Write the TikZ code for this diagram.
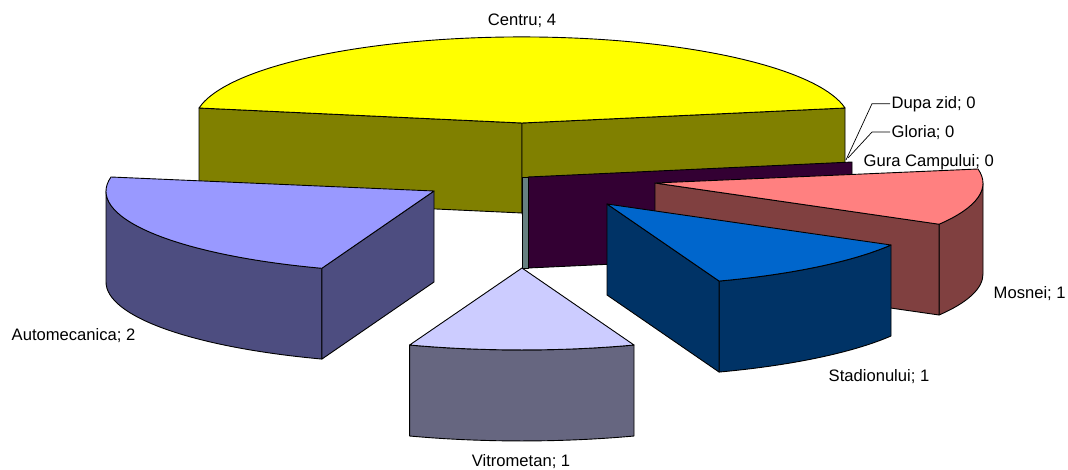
\documentclass[tikz,border=0pt]{standalone}
\usepackage{fontspec}
\setmainfont{Liberation Sans}
\usepackage{tikz}
\usetikzlibrary{positioning}

\definecolor{centrutop}{HTML}{FFFF00}
\definecolor{centruside}{HTML}{808000}
\definecolor{zerowall}{HTML}{330033}
\definecolor{zerostrip}{HTML}{668080}
\definecolor{mosneitop}{HTML}{FF8080}
\definecolor{mosneiside}{HTML}{804040}
\definecolor{stadiontop}{HTML}{0066CC}
\definecolor{stadionside}{HTML}{003366}
\definecolor{autotop}{HTML}{9999FF}
\definecolor{autoside}{HTML}{4D4D80}
\definecolor{vitrotop}{HTML}{CCCCFF}
\definecolor{vitroside}{HTML}{666680}

\begin{document}
\begin{tikzpicture}[x=1pt, y=-1pt,
    face/.style={draw=black, line width=0.9pt, line join=round},
    lbl/.style={font=\fontsize{16.6}{19}\selectfont, inner sep=1.5pt},
    leader/.style={draw=black, line width=0.7pt}]
    \useasboundingbox (0,0) rectangle (1068,469);

    % Centru, at the back
    \filldraw[face, fill=centruside] (199,108) -- (522,123) -- (522,213) -- (199,198) -- cycle;
    \filldraw[face, fill=centruside] (522,123) -- (845,108) -- (845,199) -- (522,214) -- cycle;
    \filldraw[face, fill=centrutop] (522,123) -- (199,108) arc[start angle=190, end angle=350, x radius=328, y radius=86] -- cycle;

    % walls of the empty slices
    \filldraw[face, fill=zerowall] (528,177) -- (852,162) -- (852,253) -- (528,268) -- cycle;
    \filldraw[face, fill=zerostrip] (522,177) -- (528,177) -- (528,268) -- (522,268) -- cycle;

    % Mosnei
    \filldraw[face, fill=mosneiside] (983,183) arc[start angle=0, end angle=30, x radius=328, y radius=82] -- ++(0,91) arc[start angle=30, end angle=0, x radius=328, y radius=82] -- cycle;
    \filldraw[face, fill=mosneiside] (655,183) -- (939,224) -- (939,315) -- (655,274) -- cycle;
    \filldraw[face, fill=mosneitop] (655,183) -- (978,169) arc[start angle=350, end angle=390, x radius=328, y radius=82] -- cycle;

    % Stadionului
    \filldraw[face, fill=stadionside] (891,245) arc[start angle=30, end angle=70, x radius=328, y radius=82] -- ++(0,91) arc[start angle=70, end angle=30, x radius=328, y radius=82] -- cycle;
    \filldraw[face, fill=stadionside] (607,204) -- (719,281) -- (719,372) -- (607,295) -- cycle;
    \filldraw[face, fill=stadiontop] (607,204) -- (891,245) arc[start angle=30, end angle=70, x radius=328, y radius=82] -- cycle;

    % Automecanica
    \filldraw[face, fill=autoside] (106,191) arc[start angle=180, end angle=110, x radius=328, y radius=82] -- ++(0,91) arc[start angle=110, end angle=180, x radius=328, y radius=82] -- cycle;
    \filldraw[face, fill=autoside] (434,191) -- (322,268) -- (322,359) -- (434,282) -- cycle;
    \filldraw[face, fill=autotop] (434,191) -- (111,177) arc[start angle=190, end angle=110, x radius=328, y radius=82] -- cycle;

    % Vitrometan
    \filldraw[face, fill=vitroside] (634,345) arc[start angle=70, end angle=110, x radius=328, y radius=82] -- ++(0,91) arc[start angle=110, end angle=70, x radius=328, y radius=82] -- cycle;
    \filldraw[face, fill=vitrotop] (522,268) -- (634,345) arc[start angle=70, end angle=110, x radius=328, y radius=82] -- cycle;

    % labels
    \node[lbl, anchor=base] (centru) at (522,25) {Centru; 4};
    \node[lbl, anchor=base west] (dupa) at (890,108) {Dupa zid; 0};
    \node[lbl, anchor=base west] (gloria) at (890,137) {Gloria; 0};
    \node[lbl, anchor=base west] (gura) at (862,166) {Gura Campului; 0};
    \node[lbl, anchor=base west] (mosnei) at (992,298) {Mosnei; 1};
    \node[lbl, anchor=base west] (stadion) at (827,381) {Stadionului; 1};
    \node[lbl, anchor=base] (vitro) at (521,466) {Vitrometan; 1};
    \node[lbl, anchor=base west] (auto) at (10,340) {Automecanica; 2};

    \coordinate (dupafoot) at (846,160);
    \coordinate (gloriafoot) at (848,158);
    \draw[leader] (dupafoot) -- ([xshift=-18pt]dupa.west) -- (dupa.west);
    \draw[leader] (gloriafoot) -- ([xshift=-18pt]gloria.west) -- (gloria.west);
\end{tikzpicture}
\end{document}
